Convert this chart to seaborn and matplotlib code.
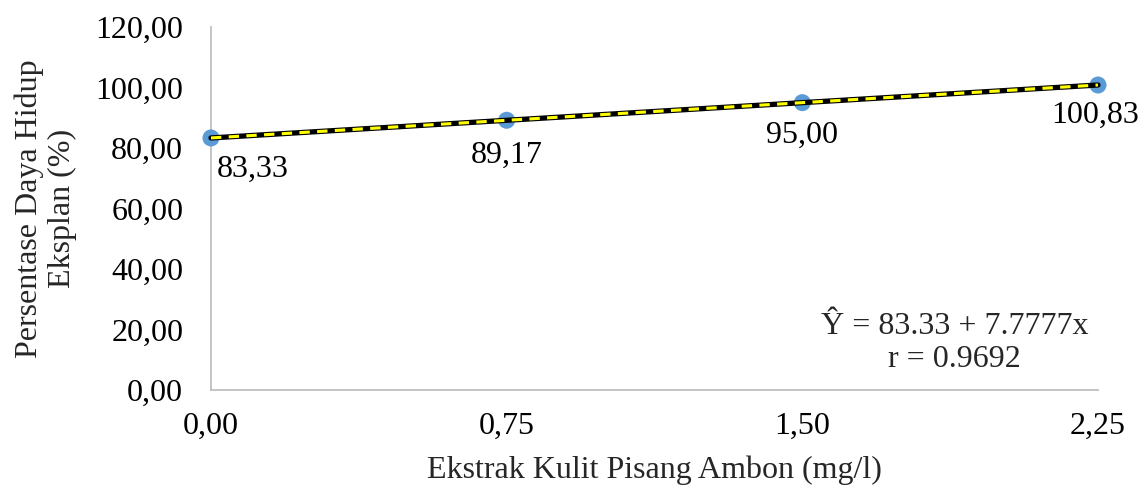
import numpy as np
import pandas as pd
import matplotlib
matplotlib.use("Agg")
import matplotlib.pyplot as plt
from matplotlib.ticker import FuncFormatter
import seaborn as sns

# Extract concentration (mg/l) and explant survival (%)
konsentrasi = [0.00, 0.75, 1.50, 2.25]
daya_hidup = [83.33, 89.17, 95.00, 100.83]
label_titik = ["83,33", "89,17", "95,00", "100,83"]
x_ticks = [0.00, 0.75, 1.50, 2.25]
y_ticks = [0, 20, 40, 60, 80, 100, 120]

df = pd.DataFrame({"x": konsentrasi, "y": daya_hidup})

# Linear trend line from a least-squares fit
b, a = np.polyfit(df["x"], df["y"], 1)
trend = pd.DataFrame({"x": [min(konsentrasi), max(konsentrasi)]})
trend["y"] = a + b * trend["x"]

sns.set_theme(style="white")
plt.rcParams["font.family"] = ["Liberation Serif", "DejaVu Serif"]
FS = 23

fig = plt.figure(figsize=(11.41, 4.86), dpi=100)
ax = fig.add_axes([0.1849, 0.1975, 0.9623 - 0.1849, 0.9444 - 0.1975])

sns.scatterplot(data=df, x="x", y="y", ax=ax, s=150, color="#5B9BD5",
                edgecolor="none", clip_on=False, zorder=3)
sns.lineplot(data=trend, x="x", y="y", ax=ax, color="black", lw=3.8,
             zorder=4, clip_on=False)
sns.lineplot(data=trend, x="x", y="y", ax=ax, color="#FFFF00", lw=2.2,
             zorder=5, clip_on=False)
ax.lines[-1].set_linestyle((0, (3.4, 2.4)))

# label offsets in pixels (dx, dy)
offsets = [(42, -31), (0, -35), (0, -33), (-3, -30)]
for xv, yv, txt, (dx, dy) in zip(konsentrasi, daya_hidup, label_titik, offsets):
    ax.annotate(txt, (xv, yv), xytext=(dx * 0.72, dy * 0.72),
                textcoords="offset points", ha="center", va="center",
                fontsize=FS, color="black")

ax.set_xlim(0, 2.25)
ax.set_ylim(0, 120)
ax.set_xticks(x_ticks)
ax.set_yticks(y_ticks)
fmt = FuncFormatter(lambda v, p: f"{v:.2f}".replace(".", ","))
ax.xaxis.set_major_formatter(fmt)
ax.yaxis.set_major_formatter(fmt)
ax.tick_params(axis="both", length=0, labelsize=FS, colors="black")
ax.tick_params(axis="y", pad=20)
ax.tick_params(axis="x", pad=16)

for side in ["top", "right"]:
    ax.spines[side].set_visible(False)
for side in ["left", "bottom"]:
    ax.spines[side].set_color("#BFBFBF")
    ax.spines[side].set_linewidth(1.3)

ax.set_xlabel("Ekstrak Kulit Pisang Ambon (mg/l)", fontsize=FS, labelpad=10)
ax.set_ylabel("Persentase Daya Hidup\nEksplan (%)", fontsize=FS, labelpad=13,
              linespacing=1.2)

ax.text(0.838, 0.13, "Ŷ = 83.33 + 7.7777x\nr = 0.9692", transform=ax.transAxes,
        ha="center", va="center", fontsize=FS, linespacing=1.2)

fig.savefig("out.png", dpi=100)
